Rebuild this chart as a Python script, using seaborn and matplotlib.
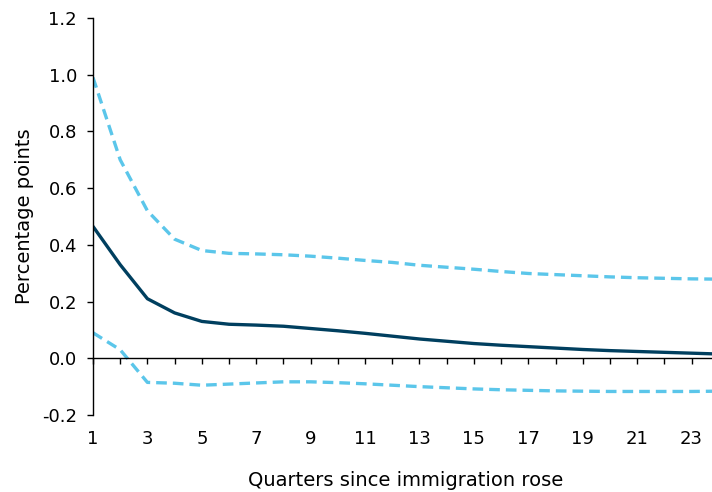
import numpy as np
import pandas as pd
import matplotlib
matplotlib.use("Agg")
import matplotlib.pyplot as plt
import seaborn as sns

quarters = list(range(1, 25))
central = [0.465, 0.33, 0.21, 0.16, 0.13, 0.12, 0.117, 0.113, 0.105, 0.097,
           0.088, 0.078, 0.068, 0.060, 0.052, 0.046, 0.041, 0.036, 0.031,
           0.027, 0.024, 0.021, 0.018, 0.015]
upper = [0.99, 0.70, 0.52, 0.42, 0.38, 0.37, 0.368, 0.365, 0.36, 0.353,
         0.345, 0.338, 0.328, 0.321, 0.314, 0.306, 0.299, 0.295, 0.291,
         0.287, 0.284, 0.282, 0.280, 0.279]
lower = [0.09, 0.03, -0.085, -0.088, -0.095, -0.091, -0.087, -0.083, -0.083,
         -0.086, -0.09, -0.095, -0.100, -0.104, -0.108, -0.111, -0.113,
         -0.115, -0.116, -0.117, -0.117, -0.117, -0.117, -0.116]

df = pd.DataFrame({"Quarter": quarters, "Central": central,
                   "Upper": upper, "Lower": lower})
long = df.melt(id_vars="Quarter", var_name="Series", value_name="Value")

sns.set_theme(style="white")
plt.rcParams['font.family'] = ['DejaVu Sans']
plt.rcParams['text.color'] = 'black'
plt.rcParams['axes.labelcolor'] = 'black'
plt.rcParams['xtick.color'] = 'black'
plt.rcParams['ytick.color'] = 'black'

fig = plt.figure(figsize=(7.12, 4.92), dpi=100)
ax = fig.add_axes([0.1306, 0.1565, 0.8694, 0.807])

palette = {"Central": "#003f5f", "Upper": "#5bc6ea", "Lower": "#5bc6ea"}
sns.lineplot(data=long, x="Quarter", y="Value", hue="Series", style="Series",
             palette=palette, dashes={"Central": "", "Upper": (3.2, 1.8), "Lower": (3.2, 1.8)},
             linewidth=2.4, legend=False, ax=ax)

ax.set_xlim(1, 23.75)
ax.set_ylim(-0.2, 1.2)
yt = np.arange(-0.2, 1.21, 0.2)
ax.set_yticks(yt)
ax.set_yticklabels([f"{v:.1f}" for v in yt])

# axis line at zero with a tick for every quarter
ax.spines['bottom'].set_position(('data', 0))
ax.spines['top'].set_visible(False)
ax.spines['right'].set_visible(False)
for s in ['bottom', 'left']:
    ax.spines[s].set_color('black')
    ax.spines[s].set_linewidth(1.0)
ax.set_xticks(quarters[:-1])
ax.tick_params(axis='x', direction='out', length=4.5, width=1,
               labelbottom=False, bottom=True)
ax.tick_params(axis='y', direction='out', length=4.5, width=1,
               labelsize=13, left=True, pad=7)

sec = ax.secondary_xaxis('bottom')
sec.set_xticks(quarters[0:23:2])
sec.set_xticklabels([str(q) for q in quarters[0:23:2]])
sec.tick_params(length=0, labelsize=13, pad=11)
sec.spines['bottom'].set_visible(False)

ax.set_xlabel("")
ax.set_ylabel("Percentage points", fontsize=14, labelpad=6)
fig.text(0.570, 0.024, "Quarters since immigration rose", ha='center',
         va='center', fontsize=14)

fig.savefig("out.png", dpi=100)
